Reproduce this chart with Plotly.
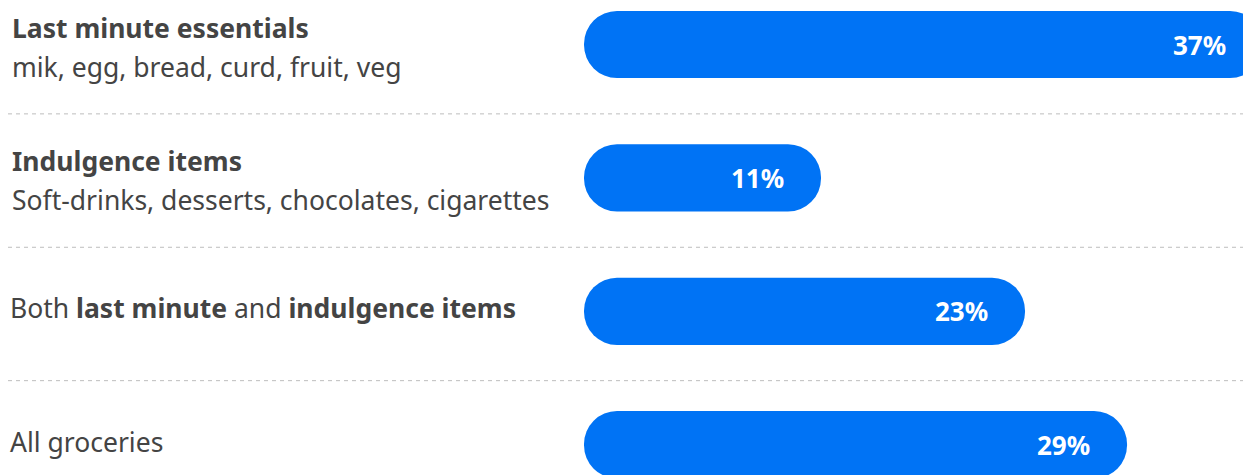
import plotly.graph_objects as go

# ---- data ----
titles = ["Last minute essentials", "Indulgence items", None, None]
subtitles = ["mik, egg, bread, curd, fruit, veg",
             "Soft-drinks, desserts, chocolates, cigarettes", None, None]
single_labels = [None, None,
                 "Both <b>last minute</b> and <b>indulgence items</b>",
                 "All groceries"]
values = [37, 11, 23, 29]
value_labels = ["37%", "11%", "23%", "29%"]

# ---- style ----
W, H = 1243, 475
BAR_COLOR = "#0073F5"
TEXT_COLOR = "#444444"
FONT = "Noto Sans"
FS = 26.5
PLOT_LEFT = 584
BAR_START = -2.94         # axis value where every bar starts (left stub)
X_MAX = 35.82
PX_PER_X = (W - PLOT_LEFT) / (X_MAX - BAR_START)
LABEL_PAD = 35
positions = list(range(len(values)))

fig = go.Figure()
fig.add_trace(go.Bar(
    y=positions,
    x=[v - BAR_START for v in values],
    base=[BAR_START] * len(values),
    orientation="h",
    width=0.504,
    marker=dict(color=BAR_COLOR, line=dict(width=0), cornerradius=34),
    hoverinfo="skip",
    showlegend=False,
))

annotations = []
for i, v in enumerate(values):
    x_anchor = min(v, X_MAX - 0.01)
    annotations.append(dict(
        x=x_anchor, y=i, xref="x", yref="y", text=f"<b>{value_labels[i]}</b>",
        xanchor="right", yanchor="middle",
        xshift=-LABEL_PAD + (v - x_anchor) * PX_PER_X, showarrow=False,
        font=dict(family=FONT, size=FS - 0.5, color="white")))
    if titles[i]:
        annotations.append(dict(
            x=10 / W, y=i, xref="paper", yref="y", text=f"<b>{titles[i]}</b>",
            xanchor="left", yanchor="middle", yshift=17, showarrow=False,
            font=dict(family=FONT, size=FS, color=TEXT_COLOR)))
        annotations.append(dict(
            x=10 / W, y=i, xref="paper", yref="y", text=subtitles[i],
            xanchor="left", yanchor="middle", yshift=-22, showarrow=False,
            font=dict(family=FONT, size=FS, color=TEXT_COLOR)))
    if single_labels[i]:
        annotations.append(dict(
            x=8 / W, y=i, xref="paper", yref="y", text=single_labels[i],
            xanchor="left", yanchor="middle", yshift=3, showarrow=False,
            font=dict(family=FONT, size=FS, color=TEXT_COLOR)))

shapes = []
for i in range(len(values) - 1):
    shapes.append(dict(
        type="line", xref="paper", yref="y", x0=8 / W, x1=1,
        y0=i + 0.52, y1=i + 0.52,
        line=dict(color="#BDBDBD", width=1, dash="4px,4px")))

px_per_unit = 133.4
first_center = 44.5
top = -first_center / px_per_unit
bottom = (H - first_center) / px_per_unit

fig.update_layout(
    width=W, height=H,
    margin=dict(l=0, r=0, t=0, b=0),
    paper_bgcolor="white", plot_bgcolor="white",
    xaxis=dict(domain=[PLOT_LEFT / W, 1], range=[BAR_START, X_MAX],
               visible=False, fixedrange=True),
    yaxis=dict(range=[bottom, top], visible=False, fixedrange=True),
    annotations=annotations,
    shapes=shapes,
    font=dict(family=FONT),
)

fig.write_html("out.html", config={"displayModeBar": False})
